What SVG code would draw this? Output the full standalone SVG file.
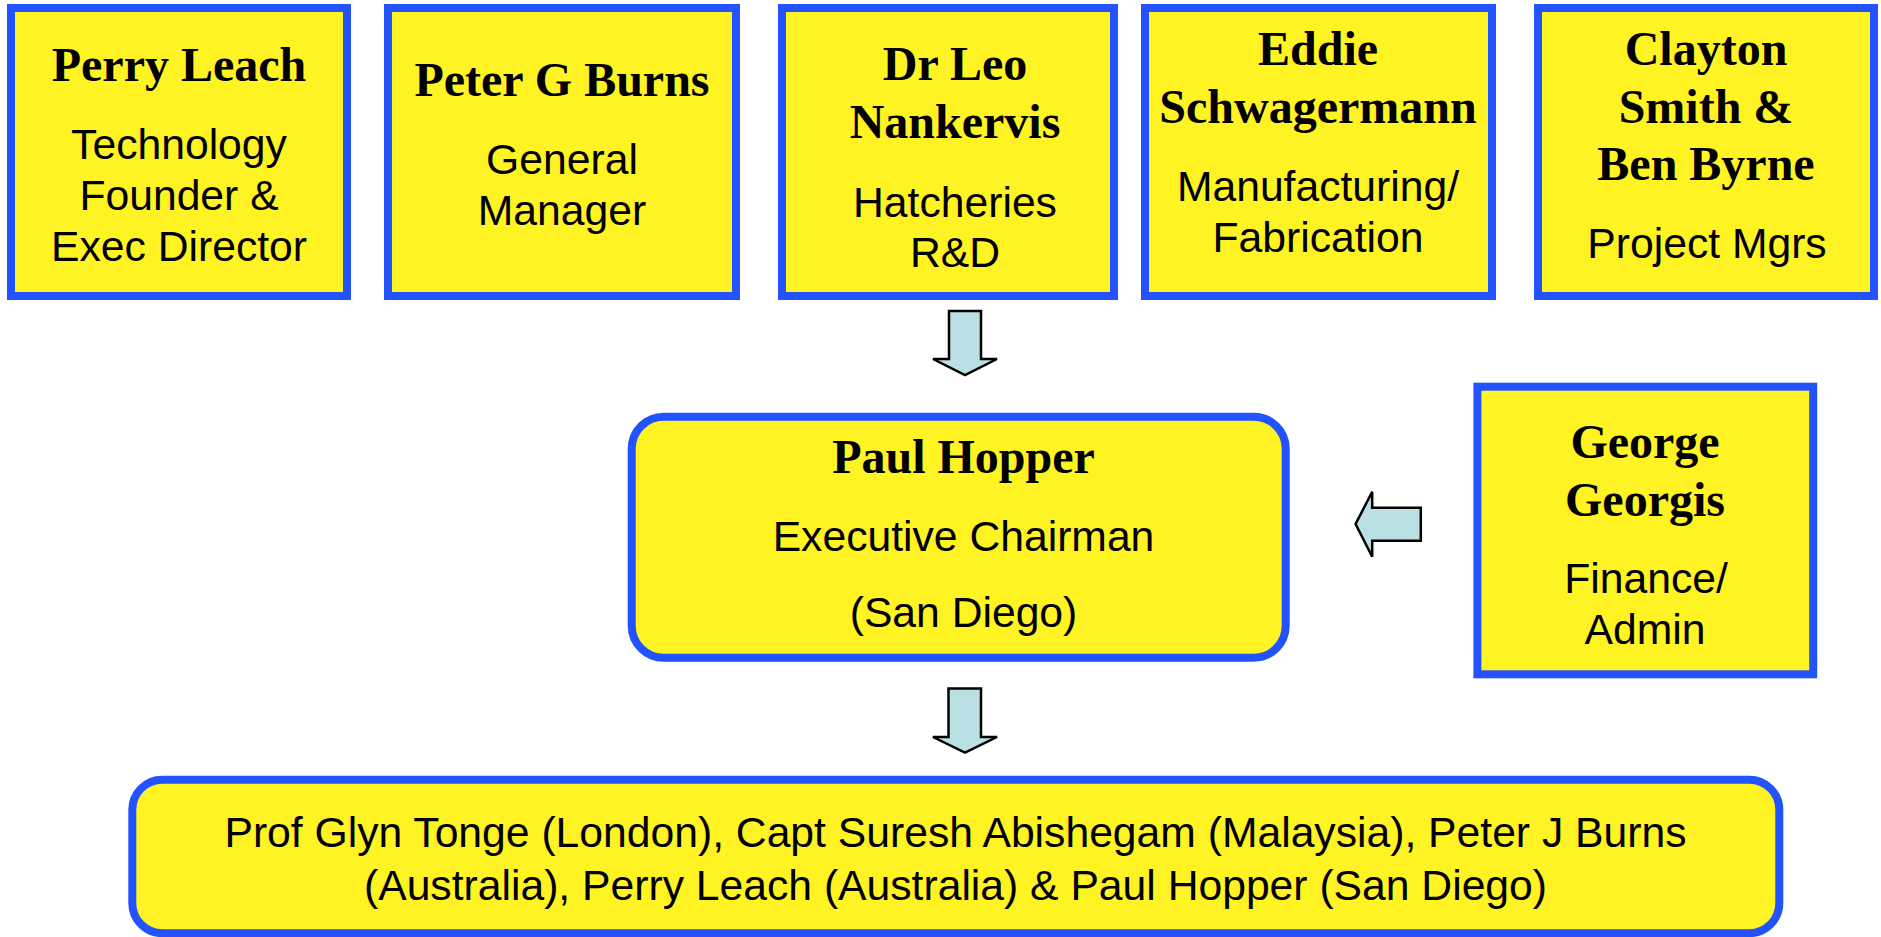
<svg xmlns="http://www.w3.org/2000/svg" width="1881" height="937" viewBox="0 0 1881 937">
<style>
.box{fill:#FFF323;stroke:#2352FF;stroke-width:8}
.name{font-family:"Liberation Serif","Times New Roman",serif;font-weight:bold;font-size:48px;fill:#000;text-anchor:middle}
.role{font-family:"Liberation Sans",Arial,sans-serif;font-size:42.67px;fill:#000;text-anchor:middle}
.arrow{fill:#BBE0E3;stroke:#000;stroke-width:2.5;stroke-linejoin:miter}
</style>
<rect width="1881" height="937" fill="#fff"/>
<g id="perry-leach">
<rect class="box" x="11" y="8" width="336" height="288"/>
<text class="name" x="179" y="81">Perry Leach</text>
<text class="role" x="179" y="158.5">Technology</text>
<text class="role" x="179" y="209.5">Founder &amp;</text>
<text class="role" x="179" y="260.7">Exec Director</text>
</g>
<g id="peter-g-burns">
<rect class="box" x="388" y="8" width="348" height="288"/>
<text class="name" x="562" y="95.7">Peter G Burns</text>
<text class="role" x="562" y="174">General</text>
<text class="role" x="562" y="225">Manager</text>
</g>
<g id="leo-nankervis">
<rect class="box" x="782" y="8" width="332" height="288"/>
<text class="name" x="955" y="80">Dr Leo</text>
<text class="name" x="955" y="137.7">Nankervis</text>
<text class="role" x="955" y="216.7">Hatcheries</text>
<text class="role" x="955" y="267">R&amp;D</text>
</g>
<g id="eddie-schwagermann">
<rect class="box" x="1145" y="8" width="347" height="288"/>
<text class="name" x="1318" y="65">Eddie</text>
<text class="name" x="1318" y="122.7">Schwagermann</text>
<text class="role" x="1318" y="201">Manufacturing/</text>
<text class="role" x="1318" y="251.7">Fabrication</text>
</g>
<g id="clayton-smith-ben-byrne">
<rect class="box" x="1538" y="8" width="336" height="288"/>
<text class="name" x="1706" y="65">Clayton</text>
<text class="name" x="1706" y="122.7">Smith &amp;</text>
<text class="name" x="1706" y="180">Ben Byrne</text>
<text class="role" x="1707" y="258.3">Project Mgrs</text>
</g>
<g id="paul-hopper">
<rect class="box" x="631.7" y="416.7" width="654" height="241" rx="32" ry="32"/>
<text class="name" x="963.5" y="472.7">Paul Hopper</text>
<text class="role" x="963.5" y="550.7">Executive Chairman</text>
<text class="role" x="963.5" y="627">(San Diego)</text>
</g>
<g id="george-georgis">
<rect class="box" x="1477.4" y="386.7" width="335.8" height="287.6"/>
<text class="name" x="1645" y="458.3">George</text>
<text class="name" x="1645" y="515.7">Georgis</text>
<text class="role" x="1646" y="593.3">Finance/</text>
<text class="role" x="1645" y="644">Admin</text>
</g>
<g id="board">
<rect class="box" x="132.3" y="779.7" width="1647" height="153.5" rx="30" ry="30"/>
<text class="role" x="955.5" y="846.7">Prof Glyn Tonge (London), Capt Suresh Abishegam (Malaysia), Peter J Burns</text>
<text class="role" x="955.5" y="900">(Australia), Perry Leach (Australia) &amp; Paul Hopper (San Diego)</text>
</g>
<g id="connectors">
<polygon class="arrow" points="949,311 981,311 981,359 997,359 965,375 933,359 949,359"/>
<polygon class="arrow" points="948.5,688.5 981,688.5 981,737 997,737 965,752.7 933,737 948.5,737"/>
<polygon class="arrow" points="1420.8,507.7 1372.2,507.7 1372.2,491.7 1355.6,524 1372.2,556.7 1372.2,540.7 1420.8,540.7"/>
</g>
</svg>
